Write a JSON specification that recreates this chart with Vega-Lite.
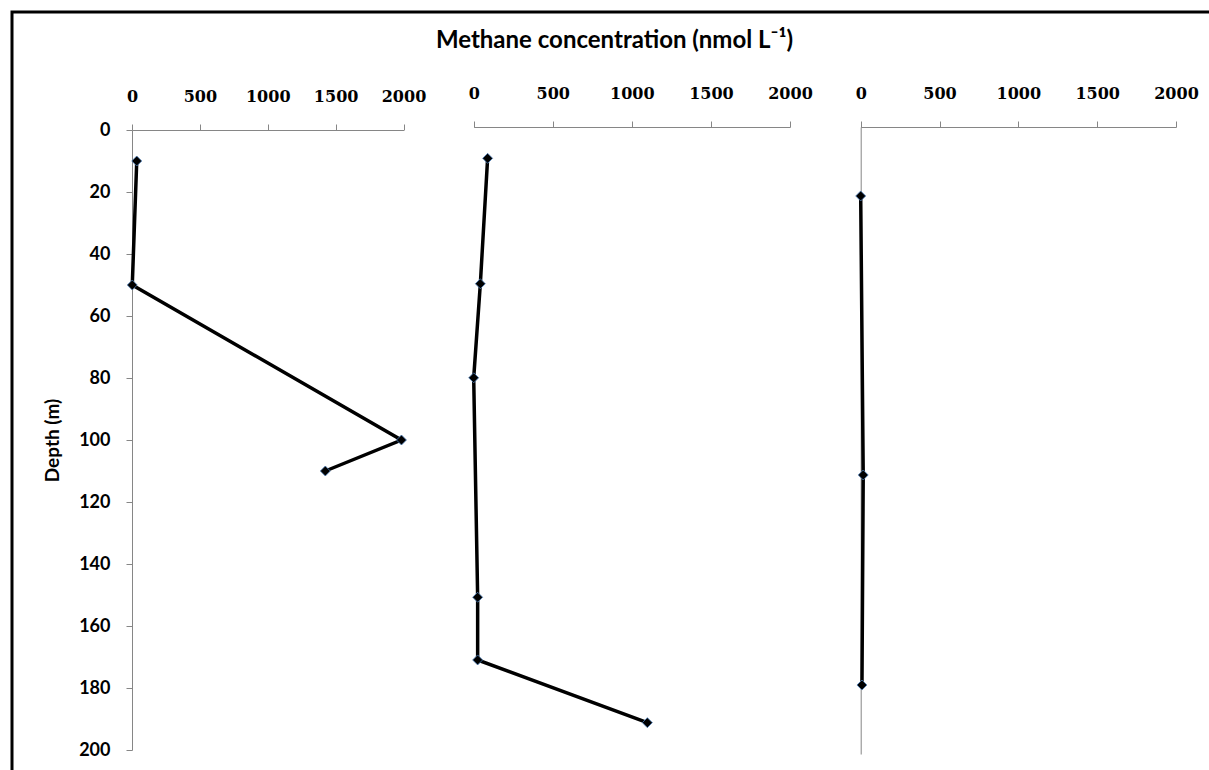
{
  "$schema": "https://vega.github.io/schema/vega-lite/v6.json",
  "width": 1205,
  "height": 765,
  "autosize": {"type": "none"},
  "padding": {"left": 12, "top": 12, "right": -8, "bottom": -7},
  "background": "white",
  "title": {
    "text": "Methane concentration (nmol L⁻¹)",
    "font": "Lato",
    "fontSize": 24,
    "fontWeight": "bold",
    "color": "black",
    "anchor": "middle",
    "frame": "group",
    "offset": -41
  },
  "config": {
    "view": {"stroke": "black", "strokeWidth": 3},
    "axis": {
      "domainColor": "#868686",
      "tickColor": "#868686",
      "domainWidth": 1,
      "tickWidth": 1,
      "grid": false,
      "labelColor": "black",
      "labelFlush": false,
      "labelOverlap": false,
      "format": "d"
    }
  },
  "datasets": {
    "A": [
      {"conc": 35, "depth": 10},
      {"conc": 2, "depth": 50},
      {"conc": 1985, "depth": 100},
      {"conc": 1424, "depth": 110}
    ],
    "B": [
      {"conc": 88, "depth": 10},
      {"conc": 42, "depth": 50},
      {"conc": 0, "depth": 80},
      {"conc": 25, "depth": 150},
      {"conc": 25, "depth": 170},
      {"conc": 1098, "depth": 190}
    ],
    "C": [
      {"conc": 0, "depth": 22},
      {"conc": 16, "depth": 111},
      {"conc": 8, "depth": 178}
    ]
  },
  "layer": [
    {
      "data": {"name": "A"},
      "encoding": {
        "x": {
          "field": "conc", "type": "quantitative",
          "scale": {"domain": [0, 2000], "range": [120, 391.5], "nice": false, "zero": false},
          "axis": {"orient": "top", "offset": -118, "values": [0, 500, 1000, 1500, 2000], "format": "d", "title": null, "tickSize": 6, "labelPadding": 20, "labelFont": "DejaVu Serif", "labelFontSize": 16, "labelFontWeight": "bold"}
        },
        "y": {
          "field": "depth", "type": "quantitative",
          "scale": {"domain": [0, 200], "range": [118, 738], "nice": false, "zero": false},
          "axis": {"orient": "left", "offset": -120, "values": [0, 20, 40, 60, 80, 100, 120, 140, 160, 180, 200], "format": "d", "title": "Depth (m)", "tickSize": 6, "labelPadding": 16, "labelFont": "Lato", "labelFontSize": 18, "labelFontWeight": "bold", "titleFont": "Lato", "titleFontSize": 19, "titleFontWeight": "bold", "titleColor": "black", "titlePadding": 16}
        }
      },
      "layer": [
        {"mark": {"type": "line", "color": "black", "strokeWidth": 3.5}, "encoding": {"order": {"field": "depth", "type": "quantitative"}}},
        {"mark": {"type": "point", "shape": "diamond", "filled": true, "size": 100, "color": "black", "stroke": "#4f81bd", "strokeWidth": 0.8, "opacity": 1}}
      ]
    },
    {
      "data": {"name": "B"},
      "encoding": {
        "x": {
          "field": "conc", "type": "quantitative",
          "scale": {"domain": [0, 2000], "range": [461.7, 778], "nice": false, "zero": false},
          "axis": {"orient": "top", "offset": -115, "values": [0, 500, 1000, 1500, 2000], "format": "d", "title": null, "tickSize": 6, "labelPadding": 20, "labelFont": "DejaVu Serif", "labelFontSize": 16, "labelFontWeight": "bold"}
        },
        "y": {
          "field": "depth", "type": "quantitative",
          "scale": {"domain": [0, 200], "range": [115, 742], "nice": false, "zero": false},
          "axis": null
        }
      },
      "layer": [
        {"mark": {"type": "line", "color": "black", "strokeWidth": 3.5}, "encoding": {"order": {"field": "depth", "type": "quantitative"}}},
        {"mark": {"type": "point", "shape": "diamond", "filled": true, "size": 100, "color": "black", "stroke": "#4f81bd", "strokeWidth": 0.8, "opacity": 1}}
      ]
    },
    {
      "data": {"name": "C"},
      "encoding": {
        "x": {
          "field": "conc", "type": "quantitative",
          "scale": {"domain": [0, 2000], "range": [848.7, 1164], "nice": false, "zero": false},
          "axis": {"orient": "top", "offset": -115, "values": [0, 500, 1000, 1500, 2000], "format": "d", "title": null, "tickSize": 6, "labelPadding": 20, "labelFont": "DejaVu Serif", "labelFontSize": 16, "labelFontWeight": "bold"}
        },
        "y": {
          "field": "depth", "type": "quantitative",
          "scale": {"domain": [0, 200], "range": [115, 742], "nice": false, "zero": false},
          "axis": {"orient": "left", "offset": -848.7, "ticks": false, "labels": false, "title": null}
        }
      },
      "layer": [
        {"mark": {"type": "line", "color": "black", "strokeWidth": 3.5}, "encoding": {"order": {"field": "depth", "type": "quantitative"}}},
        {"mark": {"type": "point", "shape": "diamond", "filled": true, "size": 100, "color": "black", "stroke": "#4f81bd", "strokeWidth": 0.8, "opacity": 1}}
      ]
    }
  ],
  "resolve": {
    "scale": {"x": "independent", "y": "independent"},
    "axis": {"x": "independent", "y": "independent"}
  }
}
